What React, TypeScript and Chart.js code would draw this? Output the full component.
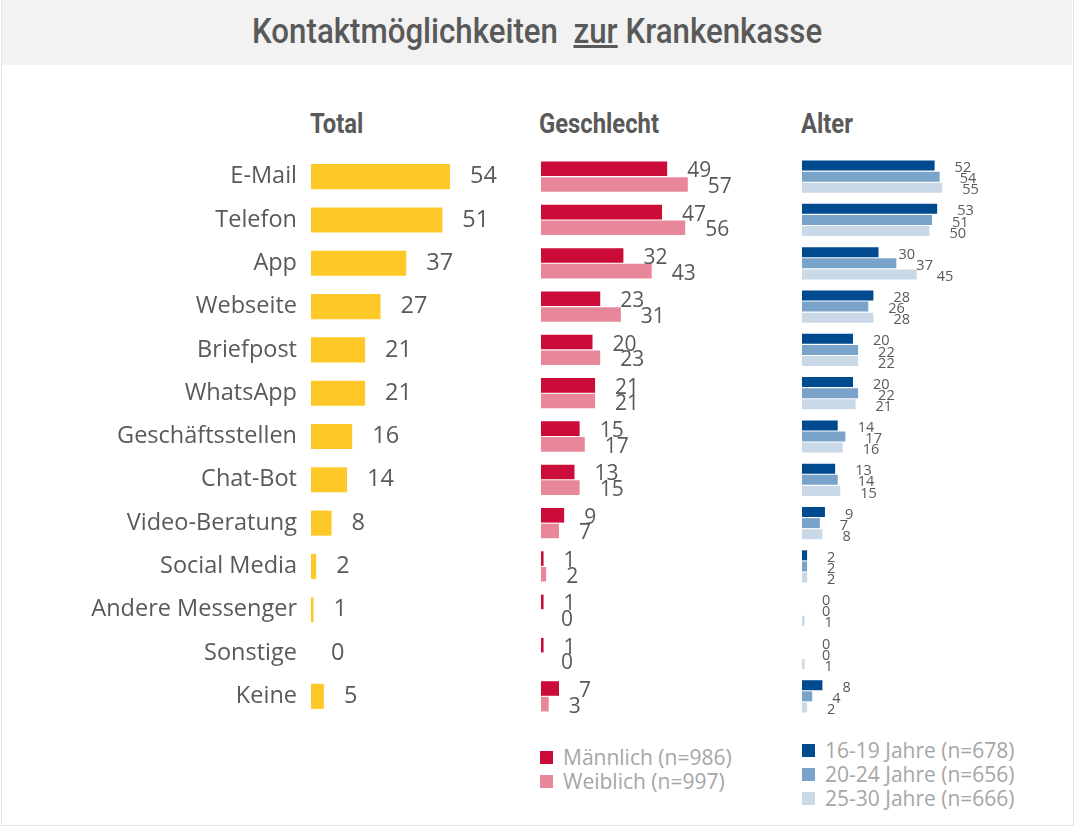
import React, { useEffect, useRef } from "react";
import { Chart, registerables } from "chart.js";

Chart.register(...registerables);

const categories = [
  "E-Mail", "Telefon", "App", "Webseite", "Briefpost", "WhatsApp",
  "Geschäftsstellen", "Chat-Bot", "Video-Beratung", "Social Media",
  "Andere Messenger", "Sonstige", "Keine",
];
const totalValues = [54, 51, 37, 27, 21, 21, 16, 14, 8, 2, 1, 0, 5];
const maleValues = [49, 47, 32, 23, 20, 21, 15, 13, 9, 1, 1, 1, 7];
const femaleValues = [57, 56, 43, 31, 23, 21, 17, 15, 7, 2, 0, 0, 3];
const age16Values = [52, 53, 30, 28, 20, 20, 14, 13, 9, 2, 0, 0, 8];
const age20Values = [54, 51, 37, 26, 22, 22, 17, 14, 7, 2, 0, 0, 4];
const age25Values = [55, 50, 45, 28, 22, 21, 16, 15, 8, 2, 1, 1, 2];

const genderLegend = ["Männlich (n=986)", "Weiblich (n=997)"];
const ageLegend = ["16-19 Jahre (n=678)", "20-24 Jahre (n=656)", "25-30 Jahre (n=666)"];

const COL_TOTAL = "#ffc829";
const COL_MALE = "#cc0c38";
const COL_FEMALE = "#e8879a";
const COL_A1 = "#004a8f";
const COL_A2 = "#7aa3c9";
const COL_A3 = "#cad9e8";
const TEXT = "#595959";
const FONT = "'Open Sans', sans-serif";

const valueLabels = {
  id: "valueLabels",
  afterDatasetsDraw(chart: any, _args: any, opts: any) {
    const ctx = chart.ctx;
    ctx.save();
    ctx.font = `${opts.size}px ${FONT}`;
    ctx.fillStyle = TEXT;
    ctx.textAlign = "left";
    ctx.textBaseline = "middle";
    chart.data.datasets.forEach((ds: any, di: number) => {
      const meta = chart.getDatasetMeta(di);
      meta.data.forEach((el: any, i: number) => {
        ctx.fillText(String(ds.data[i]), el.x + opts.offset, el.y + opts.dy);
      });
    });
    ctx.restore();
  },
};

function makeChart(canvas: HTMLCanvasElement, datasets: any[], cfg: any) {
  return new Chart(canvas, {
    type: "bar",
    data: { labels: categories, datasets },
    options: {
      indexAxis: "y",
      responsive: false,
      animation: false,
      layout: { autoPadding: false, padding: { left: 0, right: cfg.padRight, top: 0, bottom: 0 } } as any,
      plugins: {
        legend: { display: false },
        tooltip: { enabled: false },
        valueLabels: { size: cfg.size, offset: cfg.offset, dy: cfg.dy },
      } as any,
      datasets: { bar: { categoryPercentage: cfg.cat, barPercentage: cfg.bar } } as any,
      scales: {
        x: { display: false, min: 0, max: 80 },
        y: cfg.showY
          ? {
              display: true,
              border: { display: false },
              grid: { display: false, drawTicks: false },
              ticks: { color: TEXT, font: { family: FONT, size: 23.5 }, padding: 14 },
              afterFit: (s: any) => {
                s.width = cfg.yWidth;
                s.paddingTop = 0;
                s.paddingBottom = 0;
              },
            }
          : { display: false },
      },
    },
    plugins: [valueLabels],
  });
}

export default function App() {
  const c1 = useRef<HTMLCanvasElement>(null);
  const c2 = useRef<HTMLCanvasElement>(null);
  const c3 = useRef<HTMLCanvasElement>(null);

  useEffect(() => {
    const ch1 = makeChart(c1.current!, [
      { data: totalValues, backgroundColor: COL_TOTAL },
    ], { padRight: 0, size: 23.5, offset: 20, dy: 0, cat: 1, bar: 0.58, showY: true, yWidth: 311 });
    const ch2 = makeChart(c2.current!, [
      { data: maleValues, backgroundColor: COL_MALE },
      { data: femaleValues, backgroundColor: COL_FEMALE },
    ], { padRight: 40, size: 21, offset: 20, dy: 2.5, cat: 0.724, bar: 0.93, showY: false });
    const ch3 = makeChart(c3.current!, [
      { data: age16Values, backgroundColor: COL_A1 },
      { data: age20Values, backgroundColor: COL_A2 },
      { data: age25Values, backgroundColor: COL_A3 },
    ], { padRight: 40, size: 14.5, offset: 20, dy: 2.5, cat: 0.77, bar: 0.9, showY: false });
    return () => { ch1.destroy(); ch2.destroy(); ch3.destroy(); };
  }, []);

  const abs = (l: number, t: number): React.CSSProperties => ({ position: "absolute", left: l, top: t });
  const header = (txt: string, l: number) => (
    <div style={{ ...abs(l, 106), fontFamily: "Roboto, sans-serif", fontWeight: 700, fontSize: 28, color: TEXT, transform: "scaleX(0.85)", transformOrigin: "left center", whiteSpace: "nowrap", lineHeight: "36px" }}>{txt}</div>
  );
  const legendItem = (txt: string, color: string, l: number, cy: number) => (
    <div key={txt} style={{ ...abs(l, cy - 12), height: 24, display: "flex", alignItems: "center", whiteSpace: "nowrap" }}>
      <span style={{ width: 13, height: 13, background: color, display: "inline-block", marginRight: 10 }} />
      <span style={{ fontFamily: FONT, fontSize: 21, color: "#a6a6a6", lineHeight: "24px" }}>{txt}</span>
    </div>
  );

  return (
    <div style={{ position: "absolute", left: 0, top: 0, width: 1076, height: 828, background: "#fff", overflow: "hidden" }}>
      <div style={{ position: "absolute", left: 1, top: 0, width: 1071, height: 825, border: "1px solid #e4e4e4", borderTop: "none" }} />
      <div style={{ position: "absolute", left: 2, top: 0, width: 1070, height: 65, background: "#f2f2f2" }} />
      <div style={{ ...abs(252, 10), fontFamily: "Roboto, sans-serif", fontWeight: 500, fontSize: 35, color: TEXT, transform: "scaleX(0.893)", transformOrigin: "left center", whiteSpace: "pre", lineHeight: "44px" }}>
        {"Kontaktmöglichkeiten  "}<span style={{ textDecoration: "underline" }}>zur</span>{" Krankenkasse"}
      </div>
      {header("Total", 310)}
      {header("Geschlecht", 539)}
      {header("Alter", 801)}
      <canvas ref={c1} width={517} height={563} style={{ ...abs(0, 155), display: "block" }} />
      <canvas ref={c2} width={246} height={563} style={{ ...abs(541, 155), display: "block" }} />
      <canvas ref={c3} width={244} height={563} style={{ ...abs(802, 155), display: "block" }} />
      {legendItem(genderLegend[0], COL_MALE, 540, 757)}
      {legendItem(genderLegend[1], COL_FEMALE, 540, 781)}
      {legendItem(ageLegend[0], COL_A1, 802, 750)}
      {legendItem(ageLegend[1], COL_A2, 802, 774)}
      {legendItem(ageLegend[2], COL_A3, 802, 798)}
    </div>
  );
}
